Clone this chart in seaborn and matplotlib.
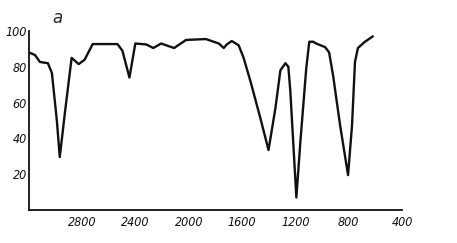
import matplotlib
matplotlib.use("Agg")
import matplotlib.pyplot as plt
import seaborn as sns
import pandas as pd

wavenumber = [3200, 3155, 3118, 3058, 3028, 2991, 2969, 2931, 2880, 2865, 2827, 2782,
              2722, 2581, 2536, 2499, 2446, 2402, 2320, 2267, 2208, 2111, 2021, 1872,
              1775, 1738, 1715, 1678, 1626, 1589, 1536, 1462, 1402, 1350, 1313, 1275,
              1253, 1238, 1193, 1163, 1119, 1096, 1066, 1044, 977, 947, 917, 865,
              805, 775, 753, 731, 678, 619]
transmittance = [88, 86.6, 82.7, 82, 76.5, 50, 29.6, 54, 85, 84, 81.5, 84,
                 92.7, 92.7, 92.7, 89, 74, 93, 92.5, 90.5, 93, 90.5, 95, 95.5,
                 93, 90.5, 92.5, 94.4, 92, 85, 71.5, 51, 33.5, 57, 78, 82,
                 80, 66, 7, 38, 79, 94, 94, 93, 91, 88, 75, 47.5,
                 19.5, 47.5, 82.7, 90.5, 94, 97]
xticks = [2800, 2400, 2000, 1600, 1200, 800, 400]
yticks = [20, 40, 60, 80, 100]

df = pd.DataFrame({"w": wavenumber, "t": transmittance})

sns.set_style("white")
plt.rcParams['font.family'] = ['DejaVu Sans']

fig = plt.figure(figsize=(4.57, 2.43), dpi=100)
ax = fig.add_axes([29/457, 1 - 210/243, (402 - 29)/457, (210 - 31)/243])
sns.lineplot(data=df, x="w", y="t", ax=ax, color="#111111", linewidth=1.7)

ax.set_xlim(3200, 400)
ax.set_ylim(0, 100)
ax.set_xticks(xticks)
ax.set_xticklabels([str(v) for v in xticks], fontstyle="italic", fontsize=9,
                   fontstretch="condensed")
ax.set_yticks(yticks)
ax.set_yticklabels([str(v) for v in yticks], fontstyle="italic", fontsize=9,
                   fontstretch="condensed")
ax.tick_params(direction="in", length=4, width=1, colors="#111111")
ax.tick_params(axis="x", pad=4)
ax.tick_params(axis="y", pad=1.5)
ax.set_xlabel("")
ax.set_ylabel("")
for s in ["top", "right"]:
    ax.spines[s].set_visible(False)
for s in ["left", "bottom"]:
    ax.spines[s].set_color("#111111")
    ax.spines[s].set_linewidth(1.3)
ax.text(2990, 102, "а", fontstyle="italic", fontsize=12, ha="center", va="bottom")

fig.savefig("out.png", dpi=100)
